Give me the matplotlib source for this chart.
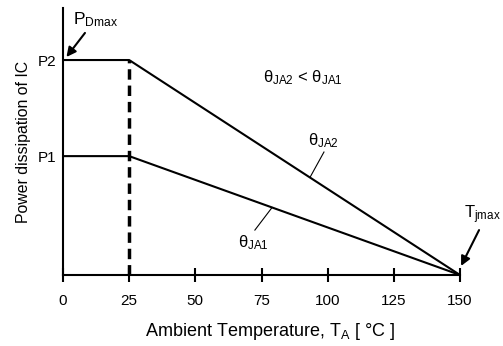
import numpy as np
import matplotlib
matplotlib.use("Agg")
import matplotlib.pyplot as plt

plt.rcParams['font.family'] = ['Liberation Sans', 'DejaVu Sans']
plt.rcParams['mathtext.fontset'] = 'custom'
plt.rcParams['mathtext.rm'] = 'Liberation Sans'
plt.rcParams['mathtext.it'] = 'Liberation Sans'
plt.rcParams['mathtext.bf'] = 'Liberation Sans'

# Data
x_ticks = [0, 25, 50, 75, 100, 125, 150]
y_tick_labels = ['P1', 'P2']
P2 = 1.0
P1 = 0.553
y_top = 1.242
T_knee = 25
T_jmax = 150
curve_x = [0, T_knee, T_jmax]
curve2_y = [P2, P2, 0]
curve1_y = [P1, P1, 0]

fig = plt.figure(figsize=(5.03, 3.46), dpi=100)
ax = fig.add_axes([63/503, (346-275)/346, 397/503, 267/346])

ax.plot(curve_x, curve2_y, color='black', lw=1.5, solid_capstyle='butt')
ax.plot(curve_x, curve1_y, color='black', lw=1.5, solid_capstyle='butt')
ax.plot([T_knee, T_knee], [0, P2], color='black', lw=2.5, dashes=(3, 1.7))

ax.set_xlim(0, 150)
ax.set_ylim(0, y_top)
for s in ['top', 'right']:
    ax.spines[s].set_visible(False)
for s in ['left', 'bottom']:
    ax.spines[s].set_linewidth(1.5)

ax.set_xticks(x_ticks)
ax.set_xticklabels([str(v) for v in x_ticks], fontsize=11)
ax.tick_params(axis='x', direction='inout', length=10, width=1.5, pad=9)
ax.set_yticks([P1, P2])
ax.set_yticklabels(y_tick_labels, fontsize=11)
ax.tick_params(axis='y', length=0, pad=5)

def line_y(p, x):
    return p * (T_jmax - x) / (T_jmax - T_knee)

ax.text(90.7, 0.916, r'θ$_{\mathrm{JA2}}$ < θ$_{\mathrm{JA1}}$', fontsize=12,
        ha='center', va='center')

ax.text(98.6, 0.623, r'θ$_{\mathrm{JA2}}$', fontsize=12, ha='center', va='center')
ax.plot([98.6, 93.3], [0.572, line_y(P2, 93.3)], color='black', lw=0.8)

ax.text(71.8, 0.149, r'θ$_{\mathrm{JA1}}$', fontsize=12, ha='center', va='center')
ax.plot([72.5, 79.0], [0.209, line_y(P1, 79.0)], color='black', lw=0.8)

arrow = dict(arrowstyle='-|>', mutation_scale=14, lw=1.5, color='black',
             shrinkA=0, shrinkB=0)
ax.annotate('', xy=(1.3, 1.014), xytext=(8.3, 1.126), arrowprops=arrow,
            annotation_clip=False)
ax.text(12.5, 1.186, r'P$_{\mathrm{Dmax}}$', fontsize=12.5, ha='center',
        va='center', clip_on=False)

ax.annotate('', xy=(150.4, 0.042), xytext=(157.2, 0.209), arrowprops=arrow,
            annotation_clip=False)
ax.text(158.3, 0.279, r'T$_{\mathrm{jmax}}$', fontsize=12, ha='center',
        va='center', clip_on=False)

fig.text(270/503, 1 - 332/346, r'Ambient Temperature, T$_{\mathrm{A}}$ [ °C ]',
         fontsize=13, ha='center', va='center')
fig.text(24/503, 1 - 142/346, 'Power dissipation of IC', fontsize=11.4,
         rotation=90, ha='center', va='center')

fig.savefig('out.png', dpi=100)
